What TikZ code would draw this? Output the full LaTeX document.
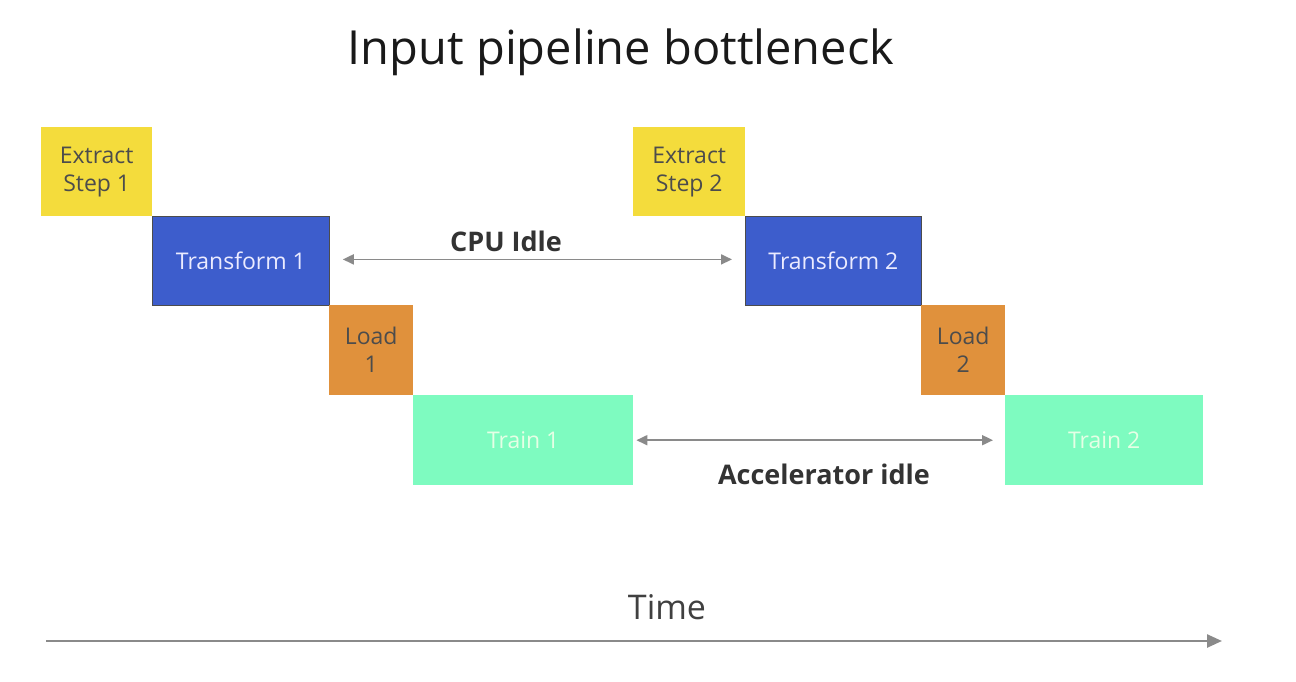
\documentclass[tikz,border=0pt]{standalone}
\usepackage{fontspec}
\setmainfont{Open Sans}
\usetikzlibrary{arrows.meta}
\definecolor{cyel}{HTML}{F4DC3C}
\definecolor{cblue}{HTML}{3D5DCC}
\definecolor{corange}{HTML}{E0913C}
\definecolor{cmint}{HTML}{7EFBC0}
\definecolor{carrow}{HTML}{8A8A8A}
\definecolor{ctext}{HTML}{333333}
\tikzset{
  blk/.style={anchor=north west, inner sep=0pt, align=center, font=\fontsize{23}{28}\selectfont},
  extractbox/.style={blk, fill=cyel, text=black!70},
  transformbox/.style={blk, fill=cblue, draw=black!70, line width=0.8pt, text=white!92!blue},
  loadbox/.style={blk, fill=corange, text=black!70},
  trainbox/.style={blk, fill=cmint, text=white!90!green},
  idlearrow/.style={draw=carrow, line width=1.8pt, {Triangle[length=11pt,width=10pt]}-{Triangle[length=11pt,width=10pt]}},
  lbl/.style={font=\fontsize{27}{32}\selectfont\bfseries, text=ctext}
}
\begin{document}
\begin{tikzpicture}[x=1pt,y=-1pt]
\useasboundingbox (0,0) rectangle (1296,682);
\fill[white] (0,0) rectangle (1296,682);
\node[font=\fontsize{47}{54}\selectfont, text=black!90] (title) at (621,52) {Input pipeline bottleneck};
% step 1
\node[extractbox, minimum width=111pt, minimum height=89pt] (e1) at (41,127) {Extract\\Step 1};
\node[transformbox, minimum width=177pt, minimum height=89pt] (t1) at (152,216) {Transform 1};
\node[loadbox, minimum width=84pt, minimum height=90pt] (l1) at (329,305) {Load\\1};
\node[trainbox, minimum width=220pt, minimum height=90pt] (r1) at (413,395) {Train 1};
% step 2
\node[extractbox, minimum width=112pt, minimum height=89pt] (e2) at (633,127) {Extract\\Step 2};
\node[transformbox, minimum width=176pt, minimum height=89pt] (t2) at (745,216) {Transform 2};
\node[loadbox, minimum width=84pt, minimum height=90pt] (l2) at (921,305) {Load\\2};
\node[trainbox, minimum width=198pt, minimum height=90pt] (r2) at (1005,395) {Train 2};
% idle arrows
\draw[idlearrow] ([xshift=13pt,yshift=1.5pt]t1.east) -- ([xshift=-13pt,yshift=1.5pt]t2.west);
\node[lbl] (cpu) at (506,241) {CPU Idle};
\draw[idlearrow] ([xshift=3pt]r1.east) -- ([xshift=-12pt]r2.west);
\node[lbl] (acc) at (824,474) {Accelerator idle};
% time
\node[font=\fontsize{34}{40}\selectfont, text=black!75] (time) at (667,607) {Time};
\coordinate (ts) at (46,641);
\coordinate (te) at (1222,641);
\draw[draw=carrow, line width=2.5pt, -{Triangle[length=15pt,width=13pt]}] (ts) -- (te);
\end{tikzpicture}
\end{document}
